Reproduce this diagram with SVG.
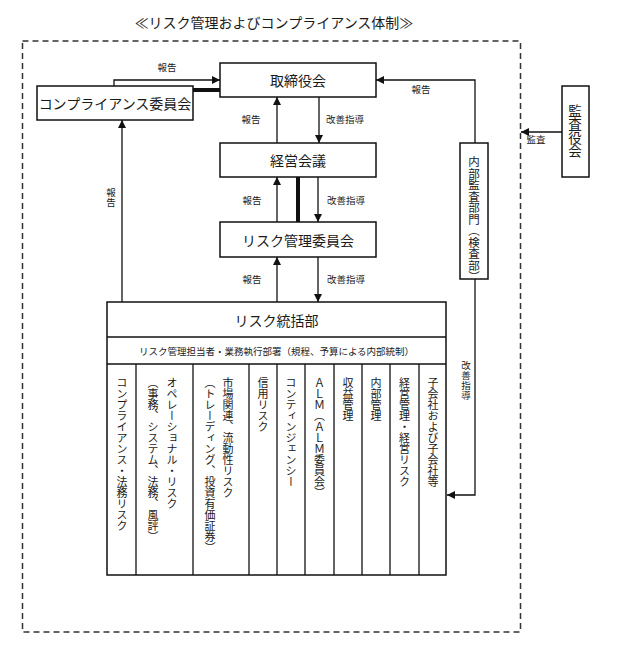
<svg xmlns="http://www.w3.org/2000/svg" width="623" height="654" viewBox="0 0 623 654">
<defs>
<marker id="arr" viewBox="0 0 10 10" refX="10" refY="5" markerWidth="8" markerHeight="8" markerUnits="userSpaceOnUse" orient="auto">
<path d="M0,0 L10,5 L0,10 z" fill="#111"/>
</marker>
<style>
text{font-family:"Noto Sans CJK JP","Noto Sans CJK SC",sans-serif;fill:#1a1a1a}
.box{fill:#fff;stroke:#111;stroke-width:1.5}
.t{font-size:14px;text-anchor:middle;dominant-baseline:central}
.lbl{font-size:9.5px;text-anchor:middle;dominant-baseline:central}
.v{font-size:11px;writing-mode:vertical-rl}
.ln{fill:none;stroke:#111;stroke-width:1.3}
.thick{fill:none;stroke:#111;stroke-width:4}
.col{fill:none;stroke:#111;stroke-width:1.3}
</style>
</defs>
<rect width="623" height="654" fill="#fff"/>
<text x="274" y="22" class="t">≪リスク管理およびコンプライアンス体制≫</text>
<rect x="22.5" y="41" width="498" height="591" fill="none" stroke="#333" stroke-width="1.5" stroke-dasharray="6,4"/>

<g id="connectors">
<polyline class="ln" points="114,86 114,80 220,80" marker-end="url(#arr)"/>
<line class="thick" x1="193" y1="90" x2="220" y2="90"/>
<line class="ln" x1="277" y1="143" x2="277" y2="97" marker-end="url(#arr)"/>
<line class="ln" x1="319" y1="97" x2="319" y2="143" marker-end="url(#arr)"/>
<line class="ln" x1="277" y1="222" x2="277" y2="177" marker-end="url(#arr)"/>
<line class="thick" x1="298" y1="177" x2="298" y2="222"/>
<line class="ln" x1="318" y1="177" x2="318" y2="222" marker-end="url(#arr)"/>
<line class="ln" x1="277" y1="302" x2="277" y2="257" marker-end="url(#arr)"/>
<line class="ln" x1="318" y1="257" x2="318" y2="302" marker-end="url(#arr)"/>
<line class="ln" x1="122" y1="302" x2="122" y2="120" marker-end="url(#arr)"/>
<polyline class="ln" points="475,143 475,80 376,80" marker-end="url(#arr)"/>
<polyline class="ln" points="475,279 475,495 447,495" marker-end="url(#arr)"/>
<line class="ln" x1="562" y1="132" x2="521" y2="132" marker-end="url(#arr)"/>
<text x="167" y="67" class="lbl">報告</text>
<text x="251" y="119" class="lbl">報告</text>
<text x="345" y="119" class="lbl">改善指導</text>
<text x="252" y="200" class="lbl">報告</text>
<text x="346" y="200" class="lbl">改善指導</text>
<text x="252" y="279" class="lbl">報告</text>
<text x="346" y="279" class="lbl">改善指導</text>
<text x="111 111" y="192 202" class="lbl">報告</text>
<text x="421" y="89" class="lbl">報告</text>
<text x="536" y="139" class="lbl">監査</text>
<text x="466 466 466 466" y="365 375 385 395" class="lbl">改善指導</text>
</g>

<g id="torishimariyakukai">
<rect class="box" x="220" y="63" width="156" height="34"/>
<text x="298" y="80" class="t">取締役会</text>
</g>
<g id="compliance">
<rect class="box" x="37" y="86" width="156" height="34"/>
<text x="115" y="103" class="t">コンプライアンス委員会</text>
</g>
<g id="keieikaigi">
<rect class="box" x="220" y="143" width="156" height="34"/>
<text x="298" y="160" class="t">経営会議</text>
</g>
<g id="riskcommittee">
<rect class="box" x="220" y="222" width="156" height="35"/>
<text x="298" y="239.5" class="t">リスク管理委員会</text>
</g>
<g id="naibukansa">
<rect class="box" x="460" y="143" width="28" height="136"/>
<text x="474" y="156" class="v" style="font-size:11.5px">内部監査部門（検査部）</text>
</g>
<g id="kansayakukai">
<rect class="box" x="562" y="86" width="27" height="91"/>
<text x="575" y="104" class="v" style="font-size:13.5px">監査役会</text>
</g>
<g id="risktoukatsu">
<rect class="box" x="107" y="302" width="339" height="273"/>
<line class="col" x1="107" y1="337" x2="446" y2="337"/>
<line class="col" x1="107" y1="364" x2="446" y2="364"/>
<text x="276.5" y="319.5" class="t">リスク統括部</text>
<text x="276.5" y="350.5" class="lbl">リスク管理担当者・業務執行部署（規程、予算による内部統制）</text>
<line class="col" x1="136" y1="364" x2="136" y2="575"/>
<line class="col" x1="193" y1="364" x2="193" y2="575"/>
<line class="col" x1="249" y1="364" x2="249" y2="575"/>
<line class="col" x1="277" y1="364" x2="277" y2="575"/>
<line class="col" x1="305" y1="364" x2="305" y2="575"/>
<line class="col" x1="334" y1="364" x2="334" y2="575"/>
<line class="col" x1="362" y1="364" x2="362" y2="575"/>
<line class="col" x1="390" y1="364" x2="390" y2="575"/>
<line class="col" x1="419" y1="364" x2="419" y2="575"/>
<text x="122" y="377" class="v">コンプライアンス・法務リスク</text>
<text x="172" y="377" class="v">オペレーショナル・リスク</text>
<text x="153" y="377" class="v">（事務、システム、法務、風評）</text>
<text x="228" y="377" class="v">市場関連、流動性リスク</text>
<text x="210" y="377" class="v">（トレーディング、投資有価証券）</text>
<text x="263" y="377" class="v">信用リスク</text>
<text x="291" y="377" class="v">コンティンジェンシー</text>
<text x="319.5" y="377" class="v">ＡＬＭ（ＡＬＭ委員会）</text>
<text x="348" y="377" class="v">収益管理</text>
<text x="376" y="377" class="v">内部管理</text>
<text x="404.5" y="377" class="v">経営管理・経営リスク</text>
<text x="433" y="377" class="v">子会社および子会社等</text>
</g>
</svg>
